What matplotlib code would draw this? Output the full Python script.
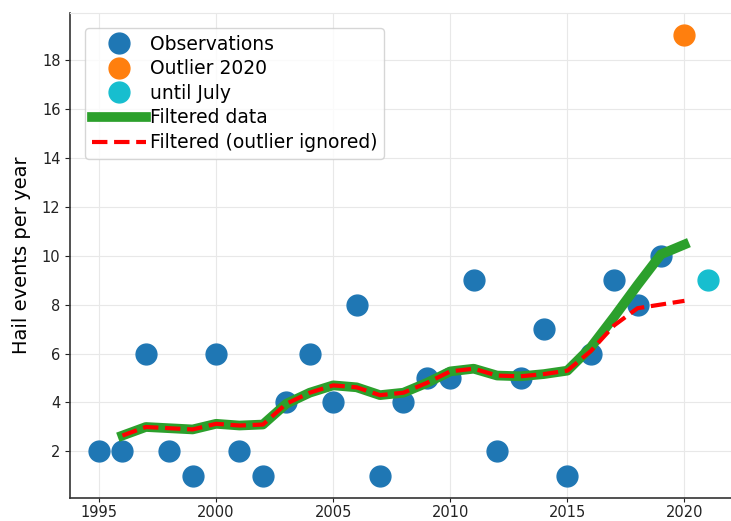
import numpy as np
import matplotlib
matplotlib.use("Agg")
import matplotlib.pyplot as plt

years = np.arange(1995, 2020)
events = [2, 2, 6, 2, 1, 6, 2, 1, 4, 6, 4, 8, 1, 4, 5, 5, 9, 2, 5, 7, 1, 6, 9, 8, 10]
outlier_year, outlier_value = 2020, 19
partial_year, partial_value = 2021, 9

filt_years = np.arange(1996, 2021)
filtered = [2.65, 3.0, 2.95, 2.9, 3.13, 3.06, 3.1, 3.95, 4.4, 4.7, 4.62, 4.3, 4.4, 4.8, 5.27,
            5.38, 5.1, 5.07, 5.16, 5.3, 6.25, 7.5, 8.8, 10.05, 10.45]
filtered_no_outlier = [2.65, 3.0, 2.95, 2.9, 3.13, 3.06, 3.1, 3.95, 4.4, 4.7, 4.62, 4.3, 4.4, 4.8, 5.27,
                       5.38, 5.1, 5.07, 5.16, 5.3, 6.1, 7.15, 7.85, 8.0, 8.15]

fig = plt.figure(figsize=(7.31, 5.21), dpi=100)
ax = fig.add_axes([0.096, 0.0441, 0.914, 0.9309])

ax.plot(years, events, 'o', color='tab:blue', ms=15, label='Observations')
ax.plot([outlier_year], [outlier_value], 'o', color='tab:orange', ms=15, label='Outlier 2020')
ax.plot([partial_year], [partial_value], 'o', color='tab:cyan', ms=15, label='until July')
ax.plot(filt_years, filtered, '-', color='tab:green', lw=7, label='Filtered data')
ax.plot(filt_years, filtered_no_outlier, '--', color='red', lw=3, label='Filtered (outlier ignored)')

ax.set_xlim(1993.77, 2022.3)
ax.set_ylim(0.1, 19.9)
ax.set_yticks(np.arange(2, 19, 2))
ax.set_xticks(np.arange(1995, 2021, 5))
ax.grid(True, color='#e8e8e8', lw=0.8)
ax.set_axisbelow(True)
ax.spines['right'].set_visible(False)
ax.spines['top'].set_color('#e8e8e8')
for s in ['left', 'bottom']:
    ax.spines[s].set_color('#333333')
    ax.spines[s].set_linewidth(1.2)
ax.tick_params(labelsize=10.5, colors='#222222')
ax.tick_params(axis='x', pad=2, length=3)
ax.set_ylabel('Hail events per year', fontsize=14, labelpad=8)

ax.legend(loc='upper left', fontsize=13.5, handlelength=2.9, borderpad=0.35,
          labelspacing=0.3, handletextpad=0.2, borderaxespad=0.8, markerscale=1.0)

fig.savefig('out.png', dpi=100)
